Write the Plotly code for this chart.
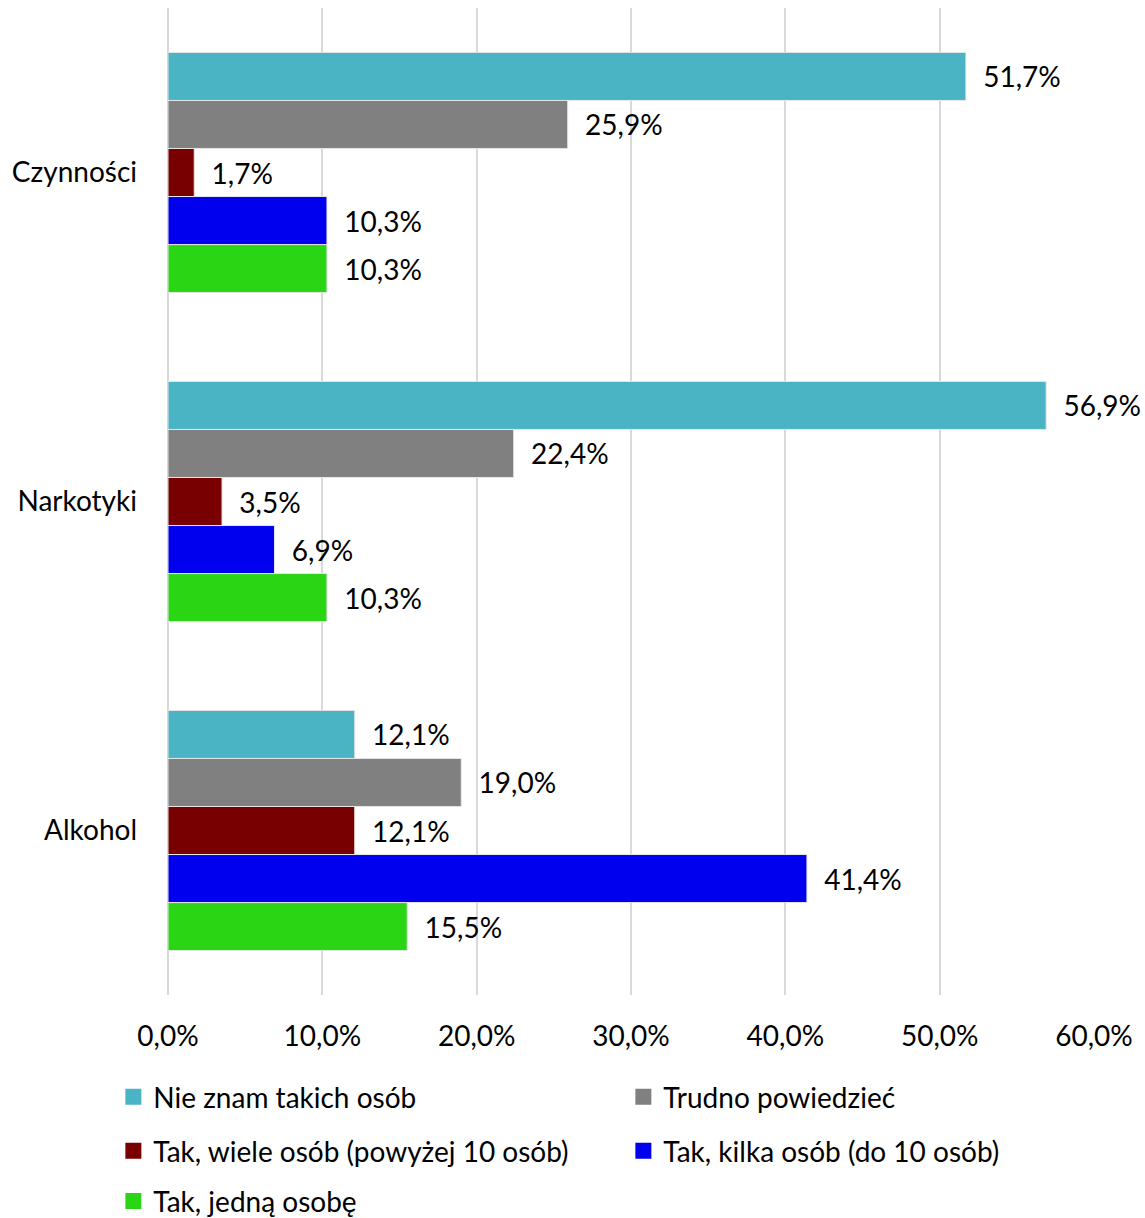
import plotly.graph_objects as go

categories = ['Alkohol', 'Narkotyki', 'Czynności']

series_names = [
    'Nie znam takich osób',
    'Trudno powiedzieć',
    'Tak, wiele osób (powyżej 10 osób)',
    'Tak, kilka osób (do 10 osób)',
    'Tak, jedną osobę',
]
nie_znam = [12.1, 56.9, 51.7]
trudno = [19.0, 22.4, 25.9]
wiele = [12.1, 3.5, 1.7]
kilka = [41.4, 6.9, 10.3]
jedna = [15.5, 10.3, 10.3]

colours = ['#4BB4C4', '#808080', '#780000', '#0000EE', '#2AD614']
values = [nie_znam, trudno, wiele, kilka, jedna]
legend_rows = ['legend', 'legend', 'legend2', 'legend2', 'legend3']

font = 'Lato, Carlito, Calibri, sans-serif'
fs = 28

fig = go.Figure()
# plotly draws the first trace at the bottom of a group, so add them reversed
for name, vals, col in reversed(list(zip(series_names, values, colours))):
    fig.add_trace(go.Bar(
        y=categories, x=vals, name=name, orientation='h', showlegend=False,
        marker=dict(color=col, line=dict(color='#E6E6E6', width=1)),
        text=vals, texttemplate='\u00a0\u00a0%{x:.1f}%', textposition='outside',
        textfont=dict(size=fs, color='black', family=font),
        cliponaxis=False,
    ))

# legend entries with bigger square markers, laid out as in the original
for name, col, lg in zip(series_names, colours, legend_rows):
    fig.add_trace(go.Scatter(
        x=[None], y=[None], mode='markers', name=name, legend=lg,
        marker=dict(symbol='square', size=18, color=col),
    ))

leg_common = dict(
    orientation='h', x=-0.059, xanchor='left', yanchor='middle',
    entrywidth=465, entrywidthmode='pixels',
    font=dict(size=fs, family=font), itemsizing='trace',
    bgcolor='rgba(0,0,0,0)',
)

fig.update_layout(
    width=1145, height=1218,
    barmode='group', bargap=0.27, bargroupgap=0,
    separators=',.',
    plot_bgcolor='white', paper_bgcolor='white',
    font=dict(family=font, size=fs, color='black'),
    margin=dict(l=168, r=51, t=8, b=223, autoexpand=False),
    legend=dict(leg_common, y=-0.1033),
    legend2=dict(leg_common, y=-0.158),
    legend3=dict(leg_common, y=-0.209),
)
fig.update_xaxes(
    range=[0, 60], dtick=10, tickformat='.1f', ticksuffix='%',
    showgrid=True, gridcolor='#D9D9D9', gridwidth=1.5,
    zeroline=True, zerolinecolor='#D9D9D9', zerolinewidth=1.5,
    ticks='', ticklabelstandoff=22, automargin=False,
)
fig.update_yaxes(showgrid=False, ticks='', ticklabelstandoff=30, automargin=False)

# drop the browser's default body margin so the figure sits at the page corner
fig.write_html('out.html', config={'displayModeBar': False},
               post_script="document.body.style.margin='0';")
